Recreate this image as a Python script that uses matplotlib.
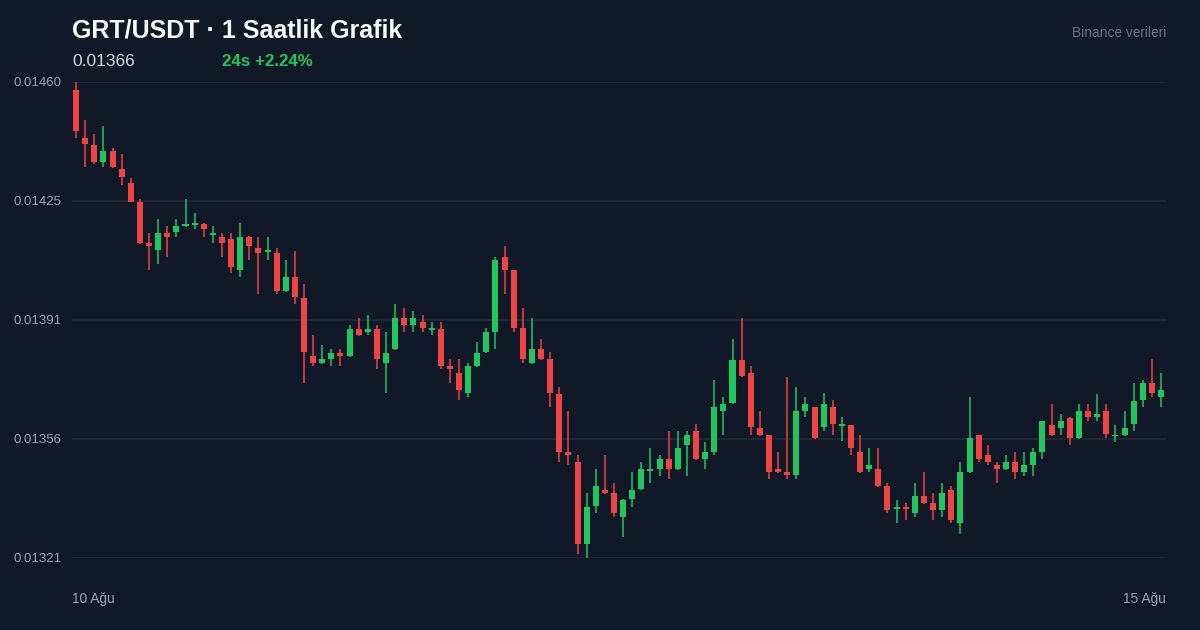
import matplotlib
matplotlib.use("Agg")
import matplotlib.pyplot as plt
import numpy as np

# Hourly GRT/USDT candles (10 Ağu - 15 Ağu)
opens = [
    0.014580, 0.014439, 0.014419, 0.014369, 0.014399, 0.014349, 0.014308, 0.014250, 0.014130, 0.014112,
    0.014159, 0.014162, 0.014180, 0.014185, 0.014188, 0.014156, 0.014150, 0.014142, 0.014051, 0.014150,
    0.014118, 0.014105, 0.014101, 0.013990, 0.014031, 0.013969, 0.013800, 0.013779, 0.013791, 0.013809,
    0.013800, 0.013879, 0.013870, 0.013879, 0.013779, 0.013820, 0.013911, 0.013890, 0.013899, 0.013876,
    0.013879, 0.013771, 0.013750, 0.013692, 0.013771, 0.013812, 0.013870, 0.014089, 0.014051, 0.013882,
    0.013779, 0.013820, 0.013791, 0.013689, 0.013520, 0.013490, 0.013251, 0.013362, 0.013409, 0.013400,
    0.013330, 0.013382, 0.013411, 0.013465, 0.013470, 0.013499, 0.013470, 0.013540, 0.013581, 0.013499,
    0.013520, 0.013639, 0.013663, 0.013788, 0.013750, 0.013590, 0.013569, 0.013470, 0.013461, 0.013452,
    0.013639, 0.013651, 0.013593, 0.013651, 0.013596, 0.013598, 0.013520, 0.013470, 0.013470, 0.013420,
    0.013353, 0.013359, 0.013341, 0.013391, 0.013371, 0.013350, 0.013409, 0.013312, 0.013461, 0.013569,
    0.013511, 0.013482, 0.013470, 0.013490, 0.013461, 0.013482, 0.013520, 0.013598, 0.013590, 0.013619,
    0.013560, 0.013639, 0.013622, 0.013639, 0.013566, 0.013569, 0.013601, 0.013671, 0.013721, 0.013680,
]
highs = [
    0.014602, 0.014492, 0.014451, 0.014472, 0.014410, 0.014390, 0.014320, 0.014261, 0.014159, 0.014200,
    0.014180, 0.014200, 0.014261, 0.014220, 0.014190, 0.014180, 0.014159, 0.014159, 0.014191, 0.014152,
    0.014150, 0.014150, 0.014118, 0.014080, 0.014109, 0.014010, 0.013861, 0.013832, 0.013820, 0.013820,
    0.013890, 0.013911, 0.013920, 0.013890, 0.013870, 0.013952, 0.013940, 0.013931, 0.013920, 0.013899,
    0.013899, 0.013791, 0.013791, 0.013779, 0.013841, 0.013882, 0.014089, 0.014121, 0.014053, 0.013940,
    0.013911, 0.013850, 0.013812, 0.013709, 0.013639, 0.013511, 0.013400, 0.013470, 0.013511, 0.013429,
    0.013382, 0.013461, 0.013490, 0.013531, 0.013511, 0.013581, 0.013581, 0.013581, 0.013601, 0.013549,
    0.013730, 0.013680, 0.013850, 0.013911, 0.013771, 0.013639, 0.013571, 0.013520, 0.013739, 0.013709,
    0.013680, 0.013653, 0.013692, 0.013671, 0.013622, 0.013600, 0.013569, 0.013531, 0.013531, 0.013429,
    0.013379, 0.013371, 0.013429, 0.013461, 0.013400, 0.013429, 0.013420, 0.013490, 0.013680, 0.013571,
    0.013540, 0.013490, 0.013511, 0.013520, 0.013520, 0.013531, 0.013612, 0.013660, 0.013630, 0.013621,
    0.013660, 0.013660, 0.013689, 0.013660, 0.013598, 0.013639, 0.013721, 0.013730, 0.013791, 0.013750,
]
lows = [
    0.014439, 0.014352, 0.014361, 0.014352, 0.014350, 0.014302, 0.014250, 0.014128, 0.014051, 0.014071,
    0.014089, 0.014150, 0.014178, 0.014171, 0.014150, 0.014130, 0.014089, 0.014042, 0.014031, 0.014080,
    0.013981, 0.014080, 0.013981, 0.013988, 0.013952, 0.013721, 0.013771, 0.013777, 0.013771, 0.013771,
    0.013798, 0.013859, 0.013861, 0.013762, 0.013692, 0.013818, 0.013870, 0.013870, 0.013870, 0.013861,
    0.013762, 0.013721, 0.013671, 0.013680, 0.013769, 0.013810, 0.013820, 0.013981, 0.013870, 0.013779,
    0.013777, 0.013789, 0.013651, 0.013490, 0.013482, 0.013222, 0.013210, 0.013341, 0.013398, 0.013330,
    0.013271, 0.013359, 0.013409, 0.013429, 0.013449, 0.013441, 0.013468, 0.013449, 0.013497, 0.013470,
    0.013511, 0.013569, 0.013661, 0.013739, 0.013569, 0.013567, 0.013441, 0.013459, 0.013441, 0.013441,
    0.013622, 0.013558, 0.013581, 0.013569, 0.013552, 0.013511, 0.013459, 0.013461, 0.013418, 0.013341,
    0.013312, 0.013321, 0.013330, 0.013369, 0.013321, 0.013330, 0.013312, 0.013280, 0.013459, 0.013490,
    0.013482, 0.013429, 0.013468, 0.013441, 0.013449, 0.013449, 0.013499, 0.013567, 0.013569, 0.013540,
    0.013558, 0.013610, 0.013610, 0.013560, 0.013549, 0.013567, 0.013581, 0.013651, 0.013680, 0.013651,
]
closes = [
    0.014460, 0.014422, 0.014369, 0.014399, 0.014352, 0.014323, 0.014250, 0.014130, 0.014121, 0.014159,
    0.014150, 0.014180, 0.014188, 0.014188, 0.014171, 0.014159, 0.014130, 0.014060, 0.014150, 0.014121,
    0.014101, 0.014109, 0.013990, 0.014031, 0.013972, 0.013812, 0.013779, 0.013791, 0.013809, 0.013800,
    0.013879, 0.013861, 0.013879, 0.013791, 0.013809, 0.013911, 0.013890, 0.013911, 0.013882, 0.013882,
    0.013771, 0.013762, 0.013701, 0.013771, 0.013809, 0.013870, 0.014080, 0.014051, 0.013882, 0.013791,
    0.013820, 0.013791, 0.013692, 0.013520, 0.013511, 0.013251, 0.013359, 0.013420, 0.013400, 0.013341,
    0.013379, 0.013409, 0.013470, 0.013470, 0.013499, 0.013470, 0.013531, 0.013569, 0.013499, 0.013520,
    0.013651, 0.013660, 0.013788, 0.013741, 0.013593, 0.013569, 0.013461, 0.013461, 0.013452, 0.013639,
    0.013660, 0.013560, 0.013660, 0.013601, 0.013601, 0.013531, 0.013461, 0.013482, 0.013420, 0.013350,
    0.013359, 0.013353, 0.013391, 0.013371, 0.013350, 0.013400, 0.013321, 0.013461, 0.013560, 0.013499,
    0.013490, 0.013470, 0.013490, 0.013461, 0.013482, 0.013520, 0.013610, 0.013569, 0.013610, 0.013560,
    0.013639, 0.013622, 0.013630, 0.013572, 0.013569, 0.013590, 0.013668, 0.013721, 0.013692, 0.013701,
]
date_labels = ["10 Ağu", "15 Ağu"]
title = "GRT/USDT · 1 Saatlik Grafik"
last_price = "0.01366"
change_text = "24s +2.24%"
source_text = "Binance verileri"

BG = "#111827"
GRID = "#1f2937"
UP = "#22c55e"
DOWN = "#ef4444"

plt.rcParams['font.family'] = ['Liberation Sans', 'DejaVu Sans']

fig = plt.figure(figsize=(12, 6.3), dpi=100, facecolor=BG)
ax = fig.add_axes([72 / 1200, 1 - 558 / 630, (1166 - 72) / 1200, (558 - 82) / 630])
ax.set_facecolor(BG)

o = np.array(opens)
h = np.array(highs)
l = np.array(lows)
c = np.array(closes)
x = np.arange(len(o))
colors = np.where(c >= o, UP, DOWN)

# wicks first, bodies on top
ax.vlines(x, l, h, colors=colors, linewidth=1.1, zorder=2)
body_low = np.minimum(o, c)
body_h = np.maximum(np.abs(c - o), 0.0000045)
ax.bar(x, body_h, bottom=body_low, width=0.66, color=colors, linewidth=0, zorder=3)

# y axis: 5 evenly spaced levels between data min and max
lo, hi = l.min(), h.max()
ax.set_ylim(lo, hi)
ax.set_xlim(-0.45, len(o) - 0.45)
ticks = np.linspace(hi, lo, 5)
ax.set_yticks(ticks)
ax.set_yticklabels([f"{t:.5f}" for t in ticks])
ax.tick_params(axis='y', length=0, pad=7.5, labelsize=9.5, labelcolor="#9ca3af")
ax.set_xticks([])
for t in ticks:
    ax.axhline(t, color=GRID, linewidth=1.2, zorder=1)
for s in ax.spines.values():
    s.set_visible(False)

# header texts
fig.text(72 / 1200, 1 - 30 / 630, title, color="#f9fafb", fontsize=18,
         fontweight='bold', va='center', ha='left')
fig.text(72 / 1200, 1 - 61 / 630, last_price, color="#d1d5db", fontsize=12.5,
         va='center', ha='left')
fig.text(222 / 1200, 1 - 61 / 630, change_text, color=UP, fontsize=12.2,
         fontweight='bold', va='center', ha='left')
fig.text(1166 / 1200, 1 - 33 / 630, source_text, color="#6b7280", fontsize=9.9,
         va='center', ha='right')

# date labels under the plot
fig.text(72 / 1200, 1 - 599 / 630, date_labels[0], color="#9ca3af", fontsize=9.9,
         va='center', ha='left')
fig.text(1166 / 1200, 1 - 599 / 630, date_labels[1], color="#9ca3af", fontsize=9.9,
         va='center', ha='right')

fig.savefig("out.png", dpi=100, facecolor=BG)
